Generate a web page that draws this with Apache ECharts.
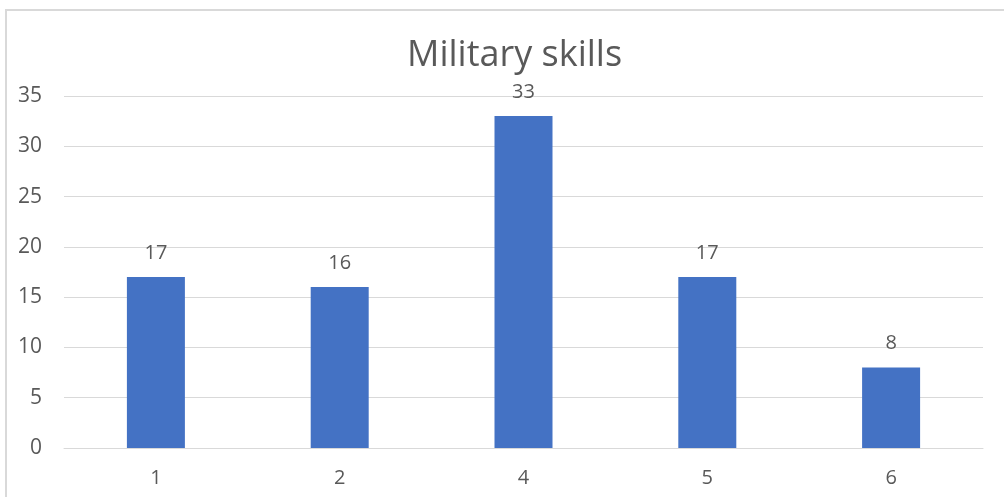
<!DOCTYPE html>
<html>
<head>
<meta charset="utf-8">
<script src="https://cdn.jsdelivr.net/npm/echarts@6/dist/echarts.min.js"></script>
<style>
  html, body { margin: 0; padding: 0; background: #fff; }
  #chart { width: 1004px; height: 497px; }
</style>
</head>
<body>
<div id="chart"></div>
<script>
// Military skills: count of responses per rating
const categories = ['1', '2', '4', '5', '6'];
const counts = [17, 16, 33, 17, 8];
const yTicks = { min: 0, max: 35, interval: 5 };

const textColor = '#595959';
const fontFamily = '"Open Sans", "Noto Sans", sans-serif';

const chart = echarts.init(document.getElementById('chart'), null, { renderer: 'canvas' });
chart.setOption({
  backgroundColor: '#ffffff',
  animation: false,
  title: {
    text: 'Military skills',
    left: 402,
    top: 33,
    textStyle: { color: textColor, fontFamily, fontSize: 36, fontWeight: 'normal' }
  },
  graphic: [{
    type: 'rect',
    shape: { x: 6, y: 10, width: 1010, height: 500 },
    style: { fill: 'none', stroke: '#d9d9d9', lineWidth: 2 },
    silent: true
  }],
  grid: { left: 64, right: 21, top: 96, bottom: 49, containLabel: false },
  xAxis: {
    type: 'category',
    data: categories,
    axisLine: { show: true, lineStyle: { color: '#d9d9d9', width: 1 } },
    axisTick: { show: false },
    axisLabel: { color: textColor, fontFamily, fontSize: 20, margin: 20 }
  },
  yAxis: {
    type: 'value',
    min: yTicks.min,
    max: yTicks.max,
    interval: yTicks.interval,
    axisLine: { show: false },
    axisTick: { show: false },
    splitLine: { lineStyle: { color: '#d9d9d9', width: 1 } },
    axisLabel: { color: textColor, fontFamily, fontSize: 21, margin: 22 }
  },
  series: [{
    type: 'bar',
    data: counts,
    barWidth: 58,
    itemStyle: { color: '#4472C4' },
    label: {
      show: true,
      position: 'top',
      distance: 14,
      color: textColor,
      fontFamily,
      fontSize: 20
    }
  }]
});
</script>
</body>
</html>
